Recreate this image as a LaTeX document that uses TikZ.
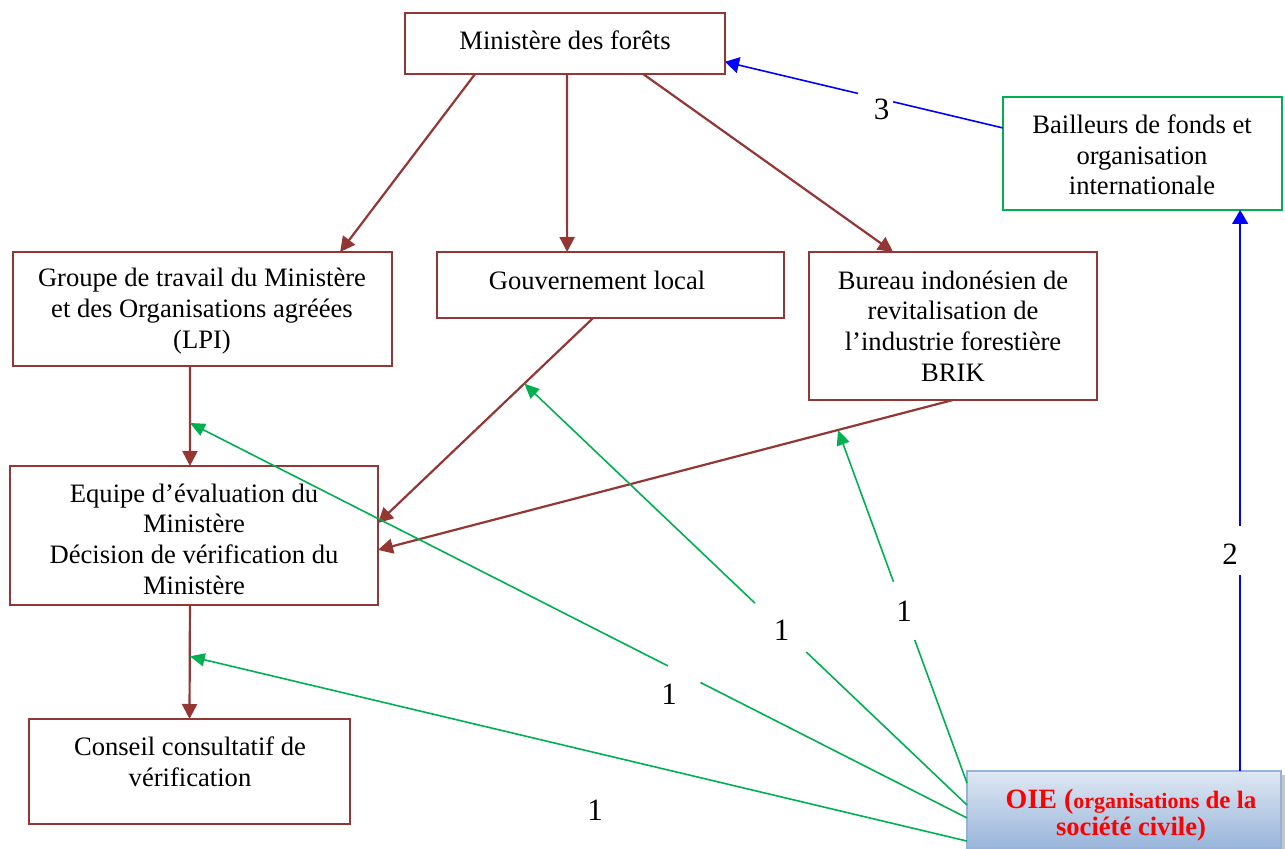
\documentclass[tikz,border=0pt]{standalone}
\usepackage{fontspec}
\setmainfont{Liberation Serif}
\usetikzlibrary{calc,arrows.meta}

\definecolor{boxred}{HTML}{943634}
\definecolor{linkgreen}{HTML}{00B050}
\definecolor{linkblue}{HTML}{0000FF}
\definecolor{oieedge}{HTML}{95B3D7}
\definecolor{oietop}{HTML}{DFE8F3}
\definecolor{oiebottom}{HTML}{98B5DA}
\definecolor{oietext}{HTML}{FF0000}

\begin{document}
\begin{tikzpicture}[x=0.5pt,y=-0.5pt,
  frame/.style={draw=boxred, line width=1.2pt, inner sep=0pt, outer sep=0pt},
  greenframe/.style={draw=linkgreen, line width=1pt, inner sep=0pt, outer sep=0pt},
  txt/.style={align=center, inner sep=0pt, font=\fontsize{13.3}{15.3}\selectfont},
  num/.style={inner sep=0pt, font=\fontsize{15.5}{18}\selectfont},
  redarrow/.style={draw=boxred, line width=1.1pt, -{Triangle[length=7.5pt,width=7.5pt]}},
  greenline/.style={draw=linkgreen, line width=0.8pt},
  greenarrow/.style={greenline, -{Triangle[length=7.5pt,width=6.5pt]}},
  blueline/.style={draw=linkblue, line width=0.8pt},
  bluearrow/.style={blueline, -{Triangle[length=7pt,width=8pt]}}]

\useasboundingbox (0,0) rectangle (1285,849);
\clip (0,0) rectangle (1285,849);

% boxes
\node[frame, minimum width=160pt, minimum height=30.5pt] (min) at (565,43.5) {};
\node[greenframe, minimum width=139.5pt, minimum height=56.5pt] (bail) at (1142.5,153.5) {};
\node[frame, minimum width=189.5pt, minimum height=57pt] (lpi) at (202.5,309) {};
\node[frame, minimum width=173.5pt, minimum height=33pt] (gouv) at (610.5,285) {};
\node[frame, minimum width=144pt, minimum height=74pt] (brik) at (953,326) {};
\node[frame, minimum width=184pt, minimum height=69.5pt] (equipe) at (194,535.5) {};
\node[frame, minimum width=160.5pt, minimum height=52.5pt] (conseil) at (189.5,771.5) {};

% civil society box with its shadow
\fill[gray!45] (1281,775) rectangle (1285,849);
\node[draw=oieedge, line width=1pt, top color=oietop, bottom color=oiebottom,
      minimum width=157pt, minimum height=38.5pt, inner sep=0pt, outer sep=0pt] (oie) at (1124,809.5) {};

% box texts
\node[txt] (min-t) at (565,40) {Ministère des forêts};
\node[txt] (bail-t) at (1142,155) {Bailleurs de fonds et\\organisation\\internationale};
\node[txt] (lpi-t) at (202,311) {Groupe de travail du Ministère\\et des Organisations agréées\\(LPI)};
\node[txt] (gouv-t) at (597,280) {Gouvernement local};
\node[txt] (brik-t) at (953,326) {Bureau indonésien de\\revitalisation de\\l’industrie forestière\\BRIK};
\node[txt] (equipe-t) at (194,539) {Equipe d’évaluation du\\Ministère\\Décision de vérification du\\Ministère};
\node[txt] (conseil-t) at (190,762) {Conseil consultatif de\\vérification};
\node[align=center, inner sep=0pt, text=oietext, font=\bfseries] (oie-t) at (1131,815)
  {{\fontsize{14}{14}\selectfont OIE (}{\fontsize{11}{14}\selectfont organisations}{\fontsize{12.5}{14}\selectfont{} de la}\\[0pt]
   {\fontsize{13.3}{14}\selectfont société civile)}};

% hierarchy
\draw[redarrow] ($(min.south west)!0.219!(min.south east)$) -- ($(lpi.north west)!0.863!(lpi.north east)$);
\draw[redarrow] ($(min.south west)!0.506!(min.south east)$) -- ($(gouv.north west)!0.375!(gouv.north east)$);
\draw[redarrow] ($(min.south west)!0.744!(min.south east)$) -- ($(brik.north west)!0.292!(brik.north east)$);
\draw[redarrow] ($(lpi.south west)!0.467!(lpi.south east)$) -- coordinate[pos=0.57] (gLPI)
  ($(equipe.north west)!0.489!(equipe.north east)$);
\draw[redarrow] ($(gouv.south west)!0.45!(gouv.south east)$) -- coordinate[pos=0.32] (gGouv)
  ($(equipe.north east)!0.41!(equipe.south east)$);
\draw[redarrow] (brik.south) -- coordinate[pos=0.2] (gBrik)
  ($(equipe.north east)!0.604!(equipe.south east)$);
\draw[redarrow] ($(equipe.south west)!0.489!(equipe.south east)$) -- coordinate[pos=0.45] (gCons) (conseil.north);

% civil society links (1)
\coordinate (o1) at ($(oie.north west)!0.156!(oie.south west)$);
\coordinate (o2) at ($(oie.north west)!0.442!(oie.south west)$);
\coordinate (o3) at ($(oie.north west)!0.61!(oie.south west)$);
\coordinate (o4) at ($(oie.north west)!0.91!(oie.south west)$);

\path (o1) -- coordinate[pos=0.405] (g1a) coordinate[pos=0.57] (g1b) (gBrik);
\draw[greenline] (o1) -- (g1a);
\draw[greenarrow] (g1b) -- (gBrik);
\node[num] (n1) at ($(g1a)!0.5!(g1b)$) {1};

\path (o2) -- coordinate[pos=0.363] (g2a) coordinate[pos=0.479] (g2b) (gGouv);
\draw[greenline] (o2) -- (g2a);
\draw[greenarrow] (g2b) -- (gGouv);
\node[num] (n2) at ($($(g2a)!0.5!(g2b)$)+(1,3)$) {1};

\path (o3) -- coordinate[pos=0.343] (g3a) coordinate[pos=0.385] (g3b) (gLPI);
\draw[greenline] (o3) -- (g3a);
\draw[greenarrow] (g3b) -- (gLPI);
\node[num] (n3) at ($($(g3a)!0.5!(g3b)$)+(-15,20)$) {1};

\draw[greenarrow] (o4) -- (gCons);
\node[num] (n4) at (595,810) {1};

% donors
\coordinate (bl) at ($(bail.north west)!0.274!(bail.south west)$);
\coordinate (mr) at ($(min.north east)!0.8!(min.south east)$);
\path (bl) -- coordinate[pos=0.395] (b3a) coordinate[pos=0.522] (b3b) (mr);
\draw[blueline] (bl) -- (b3a);
\draw[bluearrow] (b3b) -- (mr);
\node[num] (n5) at ($($(b3a)!0.5!(b3b)$)+(6,12)$) {3};

\coordinate (bb) at ($(bail.south west)!0.85!(bail.south east)$);
\coordinate (ot) at (bb |- oie.north);
\path (ot) -- coordinate[pos=0.35] (b2a) coordinate[pos=0.437] (b2b) (bb);
\draw[blueline] (ot) -- (b2a);
\draw[bluearrow] (b2b) -- (bb);
\node[num] (n6) at ($($(b2a)!0.5!(b2b)$)+(-10,4)$) {2};
\end{tikzpicture}
\end{document}
